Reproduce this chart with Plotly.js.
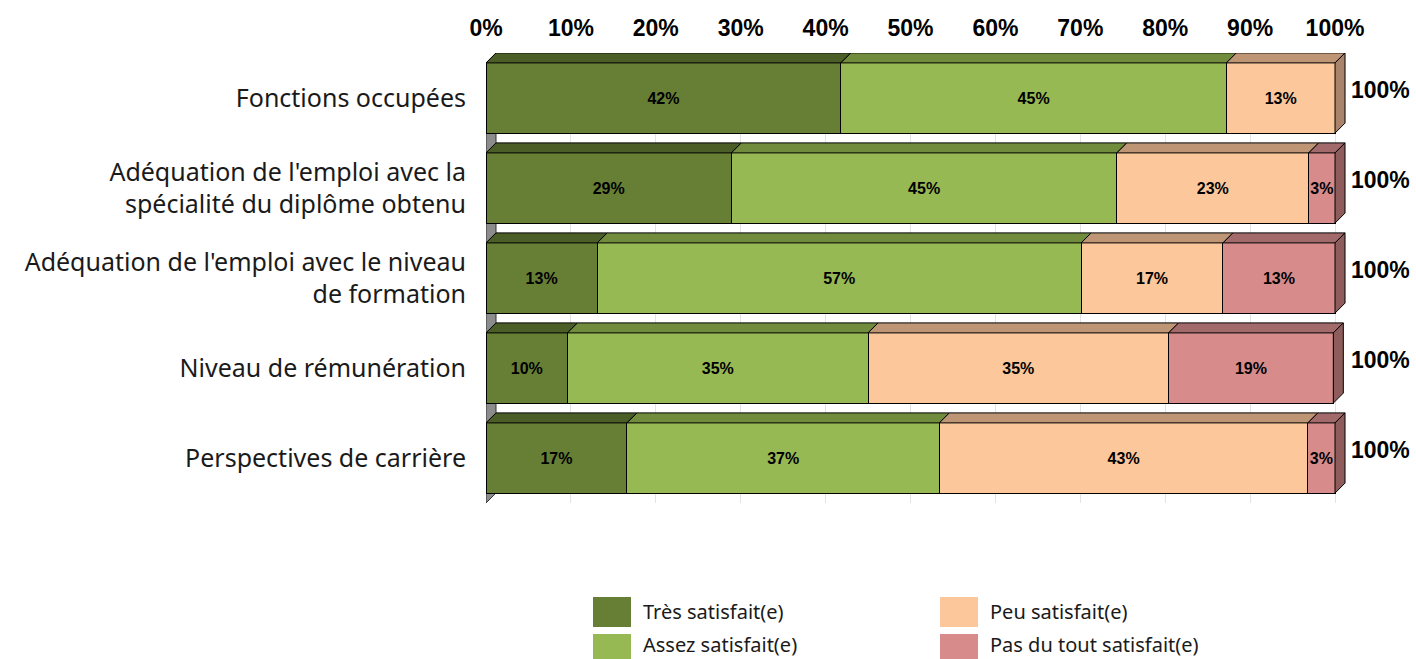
<!DOCTYPE html>
<html>
<head>
<meta charset="utf-8">
<script src="https://cdn.plot.ly/plotly-3.0.1.min.js"></script>
<style>html,body{margin:0;padding:0;background:#fff;}#chart{width:1416px;height:659px;}</style>
</head>
<body>
<div id="chart"></div>
<script>
// ---- data ----
const categories = [
  "Fonctions occupées",
  "Adéquation de l'emploi avec la<br>spécialité du diplôme obtenu",
  "Adéquation de l'emploi avec le niveau<br>de formation",
  "Niveau de rémunération",
  "Perspectives de carrière"
];
const seriesNames = ["Très satisfait(e)", "Assez satisfait(e)", "Peu satisfait(e)", "Pas du tout satisfait(e)"];
const tres  = [41.8, 28.9, 13.1,  9.6, 16.6];
const assez = [45.4, 45.4, 57.0, 35.4, 36.8];
const peu   = [12.8, 22.6, 16.7, 35.4, 43.4];
const pas   = [null,  3.1, 13.2, 19.4,  3.2];
const xTicks = [0, 10, 20, 30, 40, 50, 60, 70, 80, 90, 100];

// ---- style ----
const frontColors = ["#677F35", "#97B954", "#FBC79B", "#D78B8B"];
const topColors   = ["#4C5E28", "#718C3D", "#BE9575", "#A26A6A"];
const sideColors  = ["#3F4F21", "#5E7533", "#A9836A", "#8F5C5C"];
const barWidth = 0.78;
const xMax = 102;
const plotW = 1416 - 486 - 64;
const plotH = 450;
const depthPx = 10;
const dx = depthPx / (plotW / xMax);
const dy = depthPx / (plotH / 5);

const series = [tres, assez, peu, pas];
const yPos = categories.map((_, i) => i);

const traces = series.map((vals, s) => ({
  type: 'bar',
  orientation: 'h',
  name: seriesNames[s],
  y: yPos,
  x: vals,
  width: barWidth,
  text: vals.map(v => (v === null ? '' : Math.round(v) + '%')),
  textposition: 'inside',
  insidetextanchor: 'middle',
  textangle: 0,
  constraintext: 'none',
  textfont: {family: 'Liberation Sans, Arial, sans-serif', size: 16, color: '#000', weight: 'bold'},
  marker: {color: frontColors[s], line: {color: '#000', width: 1}},
  hoverinfo: 'name+x',
  showlegend: false
}));

// 3D faces built from the data values
const shapes = [];
shapes.push({
  type: 'path', xref: 'x', yref: 'y', layer: 'below',
  path: `M0,4.5 L0,${-0.5 + dy} L${dx},-0.5 L${dx},${4.5 - dy} Z`,
  fillcolor: '#8C8C8C', line: {color: '#333', width: 1}
});
yPos.forEach(i => {
  const top = i - barWidth / 2;
  const bot = i + barWidth / 2;
  let cum = 0;
  let lastS = 0;
  series.forEach((vals, s) => {
    const v = vals[i];
    if (v === null || v === 0) return;
    const x0 = cum, x1 = cum + v;
    shapes.push({
      type: 'path', xref: 'x', yref: 'y', layer: 'above',
      path: `M${x0},${top} L${x1},${top} L${x1 + dx},${top - dy} L${x0 + dx},${top - dy} Z`,
      fillcolor: topColors[s], line: {color: '#000', width: 1}
    });
    cum = x1;
    lastS = s;
  });
  shapes.push({
    type: 'path', xref: 'x', yref: 'y', layer: 'above',
    path: `M${cum},${top} L${cum},${bot} L${cum + dx},${bot - dy} L${cum + dx},${top - dy} Z`,
    fillcolor: sideColors[lastS], line: {color: '#000', width: 1}
  });
});

const annotations = yPos.map(i => {
  const total = series.reduce((a, vals) => a + (vals[i] || 0), 0);
  return {
    xref: 'x', yref: 'y', x: 100, y: i, xanchor: 'left', yanchor: 'middle',
    xshift: 14, yshift: 8, showarrow: false,
    text: Math.round(total) + '%',
    font: {family: 'Liberation Sans, Arial, sans-serif', size: 23, color: '#000', weight: 'bold'}
  };
});

// legend (drawn as layout decorations)
const legendItems = [
  {s: 0, x0: 593, y0: 597, y1: 627, ty: 611},
  {s: 1, x0: 593, y0: 634, y1: 664, ty: 644},
  {s: 2, x0: 940, y0: 597, y1: 627, ty: 611},
  {s: 3, x0: 940, y0: 634, y1: 664, ty: 644}
];
const px2paperX = px => (px - 486) / plotW;
const px2paperY = py => (503 - py) / plotH;
legendItems.forEach(it => {
  shapes.push({
    type: 'rect', xref: 'paper', yref: 'paper',
    x0: px2paperX(it.x0), x1: px2paperX(it.x0 + 38),
    y0: px2paperY(it.y0), y1: px2paperY(it.y1),
    fillcolor: frontColors[it.s], line: {width: 0}
  });
  annotations.push({
    xref: 'paper', yref: 'paper', x: px2paperX(it.x0 + 48), y: px2paperY(it.ty),
    xanchor: 'left', yanchor: 'middle', showarrow: false,
    text: seriesNames[it.s],
    font: {family: 'Noto Sans, sans-serif', size: 20, color: '#1a1a1a'}
  });
});

const layout = {
  width: 1416, height: 659,
  margin: {l: 486, r: 64, t: 53, b: 156},
  paper_bgcolor: '#fff', plot_bgcolor: '#fff',
  barmode: 'stack',
  bargap: 0,
  xaxis: {
    side: 'top', range: [0, xMax], tickvals: xTicks, ticktext: xTicks.map(v => v + '%'),
    showgrid: true, gridcolor: '#E3E3E3', gridwidth: 1, zeroline: false, showline: false,
    ticks: '', ticklabelstandoff: 11,
    tickfont: {family: 'Liberation Sans, Arial, sans-serif', size: 23, color: '#000', weight: 'bold'},
    fixedrange: true
  },
  yaxis: {
    range: [4.5, -0.5], tickvals: yPos, ticktext: categories,
    showgrid: false, zeroline: false, showline: false, ticks: '', ticklabelstandoff: 19,
    tickfont: {family: 'Noto Sans, sans-serif', size: 25, color: '#1a1a1a'},
    fixedrange: true
  },
  shapes: shapes,
  annotations: annotations,
  showlegend: false
};

Plotly.newPlot('chart', traces, layout, {displayModeBar: false, staticPlot: true});
</script>
</body>
</html>
